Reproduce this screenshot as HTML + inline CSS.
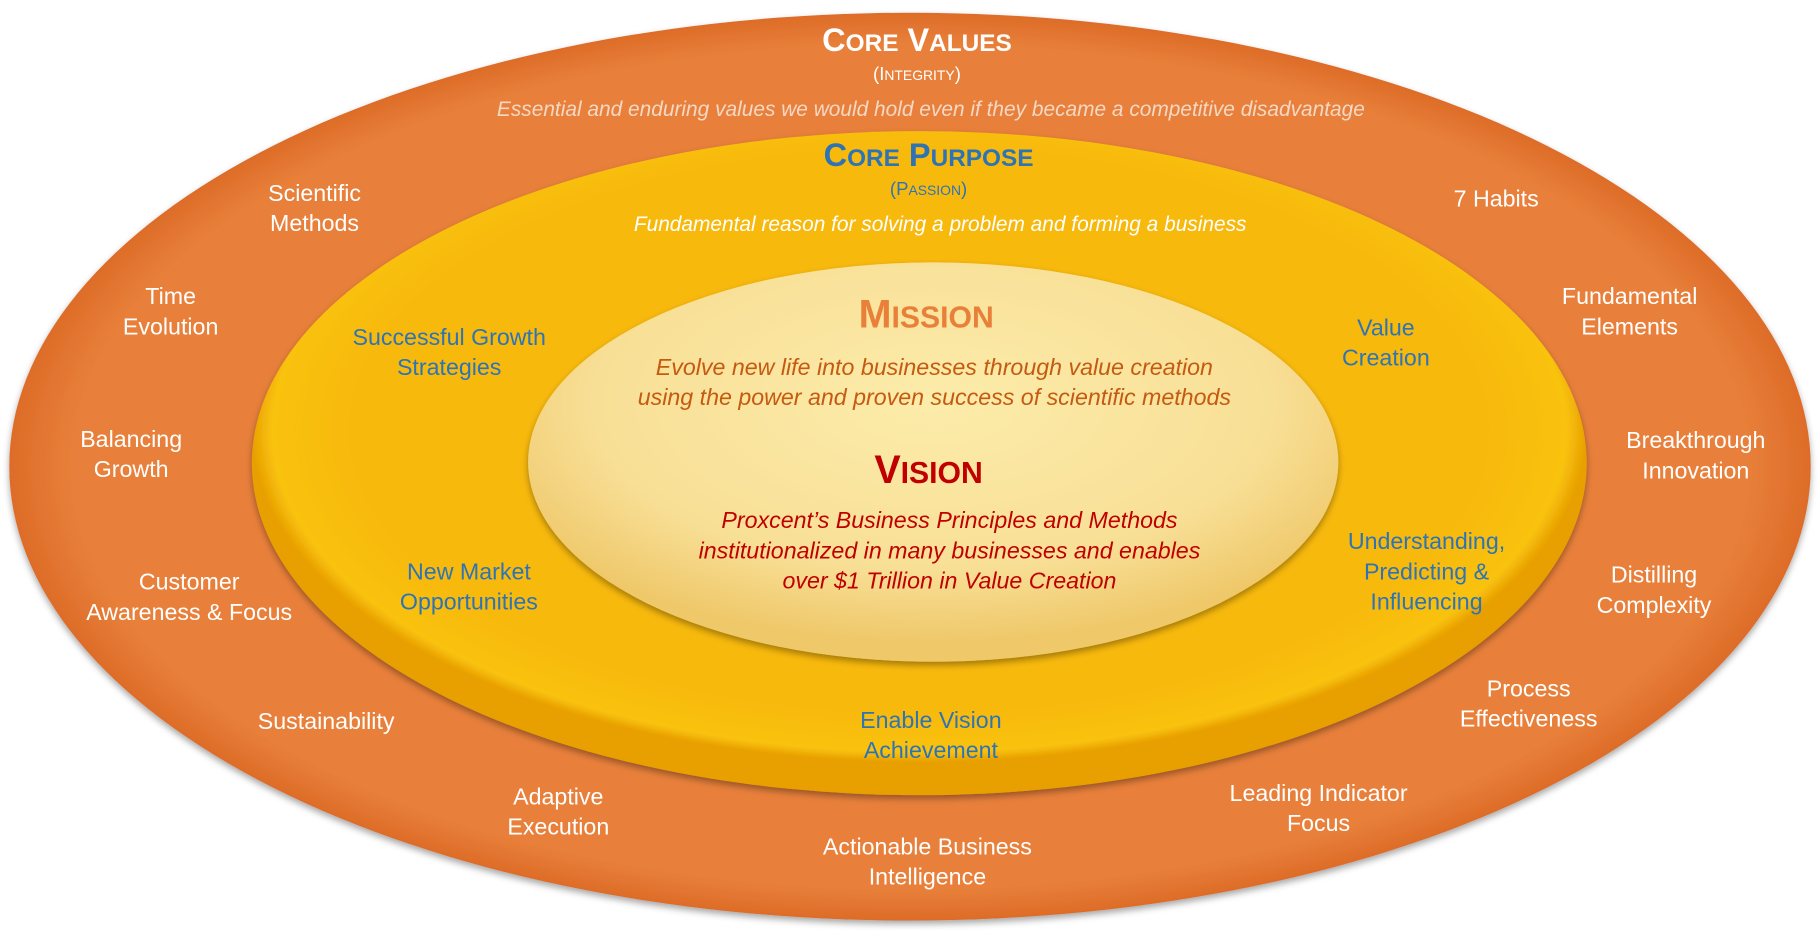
<!DOCTYPE html>
<html><head><meta charset="utf-8">
<style>
html,body{margin:0;padding:0;width:1820px;height:931px;overflow:hidden;background:#fff}
svg{display:block}
text{font-family:"Liberation Sans",sans-serif}
</style></head><body>
<svg width="1820" height="931" viewBox="0 0 1568 802" preserveAspectRatio="none">
<defs>
<radialGradient id="go" cx="50%" cy="50%" r="50%">
<stop offset="0.93" stop-color="#e8803a"/><stop offset="1" stop-color="#dd6c28"/></radialGradient>
<radialGradient id="gy" cx="50%" cy="45%" r="50%">
<stop offset="0.85" stop-color="#f8b90a"/><stop offset="0.97" stop-color="#f9c20e"/><stop offset="1" stop-color="#e8a000"/></radialGradient>
<radialGradient id="gi" cx="50%" cy="35%" r="60%">
<stop offset="0" stop-color="#fcecaa"/><stop offset="0.7" stop-color="#f8df96"/><stop offset="1" stop-color="#efc86a"/></radialGradient>
<filter id="sh" x="-5%" y="-5%" width="110%" height="115%"><feDropShadow dx="0" dy="3" stdDeviation="3" flood-opacity="0.35"/></filter>
</defs>
<ellipse cx="784" cy="402" rx="776" ry="391" fill="url(#go)" filter="url(#sh)"/>
<ellipse cx="792" cy="399" rx="575" ry="286" fill="url(#gy)" filter="url(#sh)"/>
<ellipse cx="804" cy="398" rx="349" ry="172" fill="url(#gi)" filter="url(#sh)"/>
<g text-anchor="middle">
<text x="790" y="44" font-size="28" font-weight="bold" fill="#fff">C<tspan font-size="21">ORE</tspan> V<tspan font-size="21">ALUES</tspan></text>
<text x="790" y="69" font-size="16" fill="#fff">(I<tspan font-size="12">NTEGRITY</tspan>)</text>
<text x="802" y="100" font-size="18" font-style="italic" fill="#f4d8c4">Essential and enduring values we would hold even if they became a competitive disadvantage</text>
<text x="800" y="143" font-size="28" font-weight="bold" fill="#2e74b5">C<tspan font-size="21">ORE</tspan> P<tspan font-size="21">URPOSE</tspan></text>
<text x="800" y="168" font-size="16" fill="#2e74b5">(P<tspan font-size="12">ASSION</tspan>)</text>
<text x="810" y="199" font-size="18" font-style="italic" fill="#fff">Fundamental reason for solving a problem and forming a business</text>
<text x="798" y="282" font-size="34" font-weight="bold" fill="#e8803a">M<tspan font-size="26">ISSION</tspan></text>
<text x="805" y="323" font-size="20" font-style="italic" fill="#c55a11">Evolve new life into businesses through value creation</text>
<text x="805" y="349" font-size="20" font-style="italic" fill="#c55a11">using the power and proven success of scientific methods</text>
<text x="800" y="416" font-size="34" font-weight="bold" fill="#c00000">V<tspan font-size="26">ISION</tspan></text>
<text x="818" y="455" font-size="20" font-style="italic" fill="#c00000">Proxcent’s Business Principles and Methods</text>
<text x="818" y="481" font-size="20" font-style="italic" fill="#c00000">institutionalized in many businesses and enables</text>
<text x="818" y="507" font-size="20" font-style="italic" fill="#c00000">over $1 Trillion in Value Creation</text>
<g font-size="20" fill="#2e74b5">
<text x="387" y="297">Successful Growth</text><text x="387" y="323">Strategies</text>
<text x="1194" y="289">Value</text><text x="1194" y="315">Creation</text>
<text x="404" y="499">New Market</text><text x="404" y="525">Opportunities</text>
<text x="1229" y="473">Understanding,</text><text x="1229" y="499">Predicting &amp;</text><text x="1229" y="525">Influencing</text>
<text x="802" y="627">Enable Vision</text><text x="802" y="653">Achievement</text>
</g>
<g font-size="20" fill="#fff">
<text x="271" y="173">Scientific</text><text x="271" y="199">Methods</text>
<text x="1289" y="178">7 Habits</text>
<text x="147" y="262">Time</text><text x="147" y="288">Evolution</text>
<text x="1404" y="262">Fundamental</text><text x="1404" y="288">Elements</text>
<text x="113" y="385">Balancing</text><text x="113" y="411">Growth</text>
<text x="1461" y="386">Breakthrough</text><text x="1461" y="412">Innovation</text>
<text x="163" y="508">Customer</text><text x="163" y="534">Awareness &amp; Focus</text>
<text x="1425" y="502">Distilling</text><text x="1425" y="528">Complexity</text>
<text x="281" y="628">Sustainability</text>
<text x="1317" y="600">Process</text><text x="1317" y="626">Effectiveness</text>
<text x="481" y="693">Adaptive</text><text x="481" y="719">Execution</text>
<text x="1136" y="690">Leading Indicator</text><text x="1136" y="716">Focus</text>
<text x="799" y="736">Actionable Business</text><text x="799" y="762">Intelligence</text>
</g>
</g>
</svg>
</body></html>
